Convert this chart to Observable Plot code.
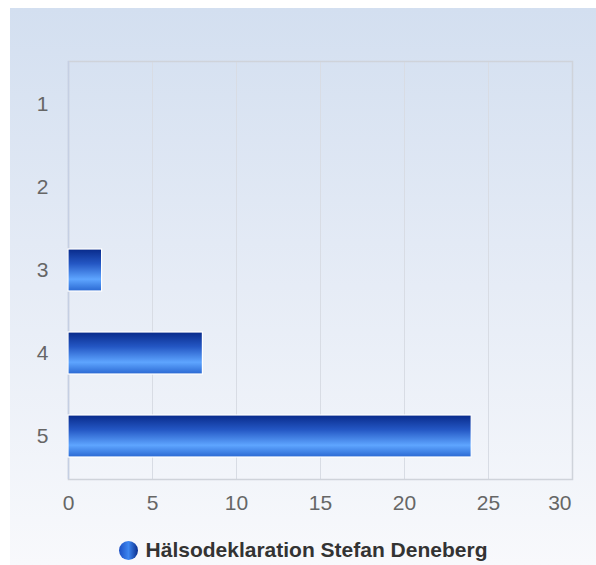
<!DOCTYPE html>
<html>
<head>
<meta charset="utf-8">
<script src="https://cdn.jsdelivr.net/npm/d3@7"></script>
<script src="https://cdn.jsdelivr.net/npm/@observablehq/plot@0.6"></script>
<style>
  html, body { margin: 0; padding: 0; background: #ffffff; }
  #panel {
    position: absolute; left: 10px; top: 8px; width: 586px; height: 557px;
    background: linear-gradient(to bottom, #d3dff0 0%, #e6ecf6 50%, #f8f9fc 100%);
  }
  #chart { position: absolute; left: 0; top: 0; }
  #legend {
    position: absolute; left: 0; top: 529px; width: 586px; text-align: center;
    font-family: "Liberation Sans", Arial, sans-serif; font-weight: bold; font-size: 21px; color: #333;
    line-height: 26px;
  }
  #legend .dot {
    display: inline-block; width: 19px; height: 19px; border-radius: 50%;
    background: linear-gradient(to right, #1b4fc4 0%, #3d86f0 50%, #0a2d8c 100%);
    vertical-align: -3px; margin-right: 8px;
  }
</style>
</head>
<body>
<div id="panel">
  <div id="chart"></div>
  <div id="legend"><span class="dot"></span><span id="seriesName"></span></div>
</div>
<script>
const categories = ["1", "2", "3", "4", "5"];
const values = [0, 0, 2, 8, 24];
const xTicks = [0, 5, 10, 15, 20, 25, 30];
const seriesName = "Hälsodeklaration Stefan Deneberg";

const data = categories.map((c, i) => ({category: c, value: values[i]}));
const innerTicks = xTicks.slice(0, -1);
const lastTick = xTicks.slice(-1);

const defs = () => {
  const g = d3.create("svg:defs");
  const lg = g.append("linearGradient").attr("id", "barGrad")
    .attr("x1", 0).attr("y1", 0).attr("x2", 0).attr("y2", 1);
  lg.append("stop").attr("offset", "0%").attr("stop-color", "#082a8a");
  lg.append("stop").attr("offset", "35%").attr("stop-color", "#2457c4");
  lg.append("stop").attr("offset", "72%").attr("stop-color", "#5ea5ff");
  lg.append("stop").attr("offset", "100%").attr("stop-color", "#2a68d2");
  return g.node();
};

const chart = Plot.plot({
  width: 586,
  height: 520,
  marginLeft: 58,
  marginTop: 53,
  marginRight: 24,
  marginBottom: 49,
  style: {background: "transparent", fontFamily: "Liberation Sans, Arial, sans-serif", fontSize: "21px", color: "#666"},
  x: {domain: [0, 30], ticks: xTicks, label: null},
  y: {domain: categories, label: null, paddingInner: 0.5, paddingOuter: 0.25},
  marks: [
    defs,
    Plot.gridX(xTicks, {stroke: "#d8dce4", strokeOpacity: 1}),
    Plot.frame({stroke: "#cfd3da", strokeWidth: 1.5}),
    Plot.ruleX([0], {stroke: "#c5cfe3", strokeWidth: 1.5}),
    Plot.barX(data, {x: "value", y: "category", fill: "url(#barGrad)", stroke: "#ffffff", strokeWidth: 1.2}),
    Plot.axisX(innerTicks, {tickSize: 0, tickPadding: 16, fill: "#666", fontSize: 21, label: null}),
    Plot.axisX(lastTick, {tickSize: 0, tickPadding: 16, fill: "#666", fontSize: 21, label: null, textAnchor: "end", dx: -1}),
    Plot.axisY({tickSize: 0, tickPadding: 20, fill: "#666", fontSize: 21, label: null})
  ]
});
document.getElementById("chart").appendChild(chart);
document.getElementById("seriesName").textContent = seriesName;
</script>
</body>
</html>
